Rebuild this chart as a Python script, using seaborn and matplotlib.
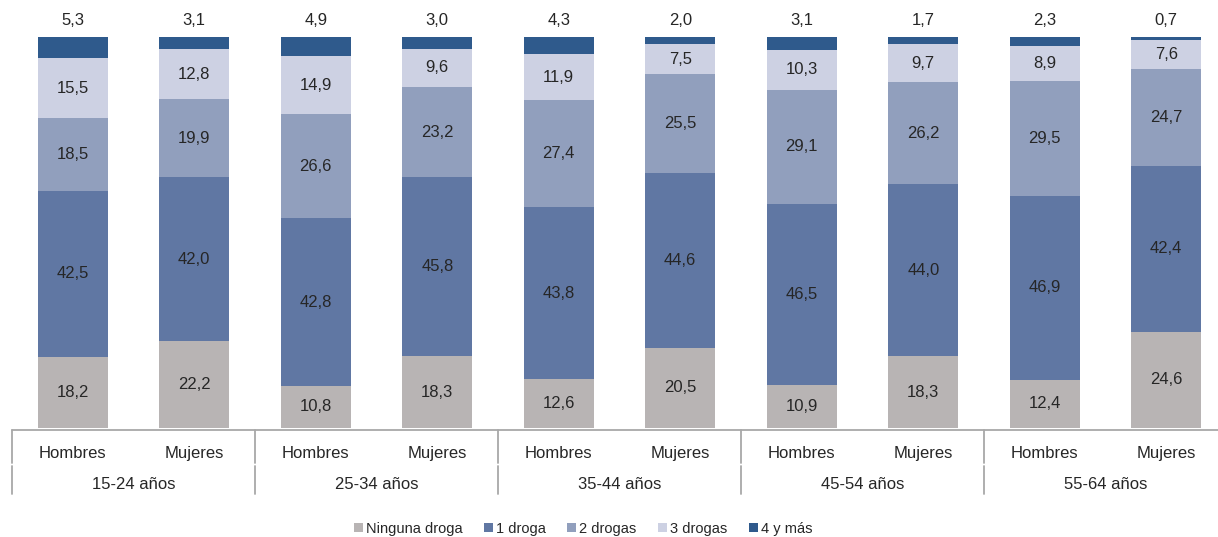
import numpy as np
import pandas as pd
import seaborn as sns
import matplotlib.pyplot as plt

ages = ["15-24 años", "25-34 años", "35-44 años", "45-54 años", "55-64 años"]
sexes = ["Hombres", "Mujeres"]
series = ["Ninguna droga", "1 droga", "2 drogas", "3 drogas", "4 y más"]
colors = ["#b8b4b4", "#6077a3", "#919fbd", "#cdd1e3", "#2f5a8c"]

# values per bar: H, M for each age group
ninguna = [18.2, 22.2, 10.8, 18.3, 12.6, 20.5, 10.9, 18.3, 12.4, 24.6]
una = [42.5, 42.0, 42.8, 45.8, 43.8, 44.6, 46.5, 44.0, 46.9, 42.4]
dos = [18.5, 19.9, 26.6, 23.2, 27.4, 25.5, 29.1, 26.2, 29.5, 24.7]
tres = [15.5, 12.8, 14.9, 9.6, 11.9, 7.5, 10.3, 9.7, 8.9, 7.6]
cuatro = [5.3, 3.1, 4.9, 3.0, 4.3, 2.0, 3.1, 1.7, 2.3, 0.7]

bars = [f"{a} {s}" for a in ages for s in sexes]
vals = np.array([ninguna, una, dos, tres, cuatro])
cum = vals.cumsum(axis=0)

df = pd.DataFrame({"bar": bars})
for i, s in enumerate(series):
    df[s] = cum[i]

sns.set_style("white")
plt.rcParams["font.family"] = ["Liberation Sans", "DejaVu Sans"]

fig = plt.figure(figsize=(12.18, 5.37), dpi=100)
ax = fig.add_axes([12 / 1218, (537 - 428) / 537, 1206 / 1218, 391 / 537])

# draw from top layer down so each shorter bar covers the previous
for i in range(len(series) - 1, -1, -1):
    sns.barplot(data=df, x="bar", y=series[i], order=bars, color=colors[i],
                width=0.58, saturation=1, linewidth=0, ax=ax, label=series[i])

handles, labels = ax.get_legend_handles_labels()
if ax.get_legend() is not None:
    ax.get_legend().remove()

ax.set_xlim(-0.5, -0.5 + 1206 / 121.5)
ax.set_ylim(0, 100)
ax.set_xlabel("")
ax.set_ylabel("")
ax.set_xticks([])
ax.set_yticks([])
for sp in ax.spines.values():
    sp.set_visible(False)

txt = "#262626"
fs = 12
for j in range(len(bars)):
    bottom = 0
    for i in range(len(series)):
        v = vals[i, j]
        label = f"{v:.1f}".replace(".", ",")
        if i == len(series) - 1:
            ax.text(j, 102.2, label, ha="center", va="bottom", fontsize=fs, color=txt, clip_on=False)
        else:
            ax.text(j, bottom + v / 2, label, ha="center", va="center", fontsize=fs, color=txt)
        bottom += v

# category table below the bars
line_c = "#a8a8a8"
ax.plot([-0.5, 10], [-0.6, -0.6], color=line_c, lw=1.3, clip_on=False)
for g in range(6):
    xs = -0.5 + 2 * g
    ax.plot([xs, xs], [-0.6, -9.0], color=line_c, lw=1.3, clip_on=False)
    ax.plot([xs, xs], [-9.6, -16.8], color=line_c, lw=1.3, clip_on=False)
for j, b in enumerate(bars):
    ax.text(j, -6.4, sexes[j % 2], ha="center", va="center", fontsize=fs, color=txt, clip_on=False)
for g, a in enumerate(ages):
    ax.text(2 * g + 0.5, -14.4, a, ha="center", va="center", fontsize=fs, color=txt, clip_on=False)

order = [labels.index(s) for s in series]
fig.legend([handles[k] for k in order], series, loc="center", bbox_to_anchor=(583 / 1218, 1 - 529 / 537),
           ncol=5, frameon=False, fontsize=10.5, handlelength=0.6, handleheight=0.6,
           handletextpad=0.2, columnspacing=1.5, labelcolor=txt)

fig.savefig("out.png", dpi=100)
